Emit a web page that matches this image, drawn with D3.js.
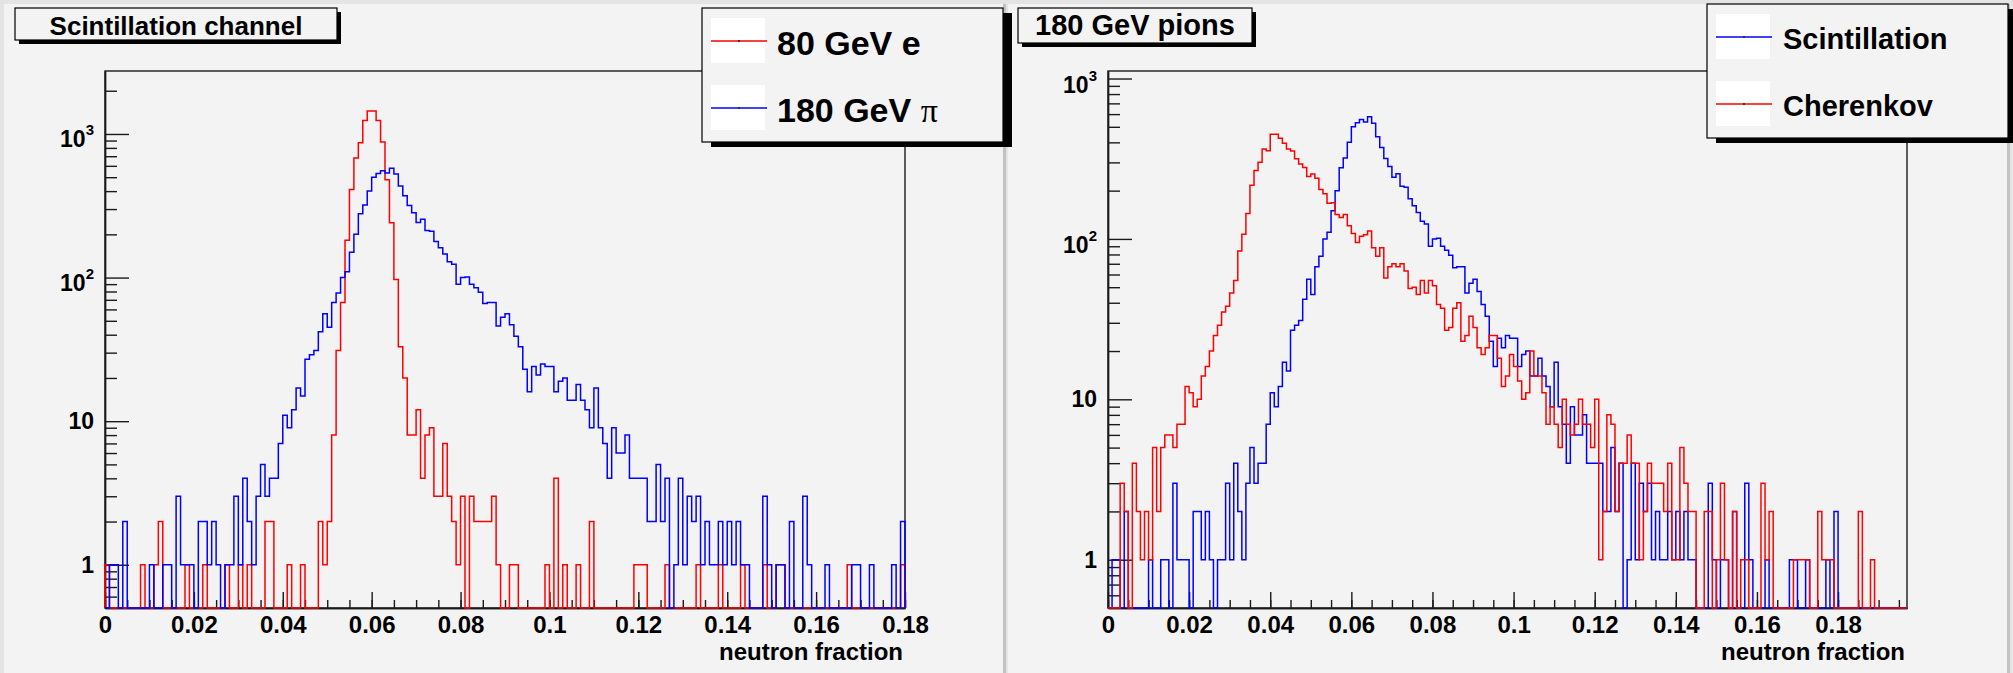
<!DOCTYPE html>
<html lang="en">
<head>
<meta charset="UTF-8">
<title>neutron fraction</title>
<script src="https://cdn.jsdelivr.net/npm/d3@7"></script>
<style>
  body { margin: 0; background: #e4e4e4; }
  text { font-family: "Liberation Sans", Arial, sans-serif; font-weight: bold; fill: #000; }
</style>
</head>
<body>
<svg id="chart" width="2013" height="673"></svg>
<script>
// histograms, one entry per bin of width 0.001 (neutron fraction)
const binWidth = 0.001;

const xTickLabels = [0, 0.02, 0.04, 0.06, 0.08, 0.1, 0.12, 0.14, 0.16, 0.18];
const yDecades = [1, 10, 100, 1000];

// 180 GeV pi, scintillation channel (bins 0..196)
const pi180Scint = [
  0,1,1,0,2,0,0,0,0,0,
  1,0,0,1,1,0,3,1,1,1,
  0,2,2,1,2,1,0,1,1,3,
  1,4,2,1,3,5,3,4,4,7,
  11,9,12,17,15,27,29,31,42,56,
  45,67,78,100,110,150,200,278,320,400,
  500,530,555,535,578,527,434,372,317,283,
  242,255,213,210,178,161,146,129,124,90,
  100,101,90,85,79,66,67,67,46,53,
  56,47,39,33,23,16,24,21,25,24,
  24,16,19,20,14,14,18,14,12,9,
  17,9,7,4,9,6,6,8,4,4,
  4,4,2,2,5,2,4,0,1,4,
  1,3,2,3,1,2,1,1,2,1,
  2,1,2,1,1,0,0,0,3,1,
  0,1,1,0,2,0,0,3,1,0,
  0,0,1,0,0,0,0,0,1,1,
  0,0,1,0,0,0,0,1,0,2,
  0,0,0,0,0,0,0,0,0,0,
  0,0,0,0,0,0,0
];

// 80 GeV e, scintillation channel (bins 0..179)
const e80Scint = [
  1,0,0,0,0,0,0,0,1,0,
  0,1,2,0,0,0,0,0,1,0,
  0,0,1,0,0,0,0,1,0,0,
  1,0,1,0,0,0,2,2,0,0,
  0,1,0,0,1,0,0,0,2,1,
  2,8,31,67,182,411,680,870,1242,1446,
  1446,1242,880,480,241,97,33,20,8,8,
  12,4,8,9,3,3,7,3,2,1,
  3,0,3,2,2,2,2,3,1,0,
  0,1,1,0,0,0,0,0,0,1,
  0,4,0,1,0,0,1,0,0,2,
  0,0,0,0,0,0,0,0,0,1,
  1,1,0,0,0,0,1,0,0,0,
  0,0,0,1,0,0,0,0,1,0,
  0,0,0,1,0,0,0,0,1,0,
  0,1,1,0,0,0,0,0,0,0,
  0,0,0,0,0,0,0,1,0,0,
  0,0,0,0,0,0,0,0,0,1
];

// 180 GeV pi, Cherenkov channel (bins 0..196)
const pi180Cher = [
  0,0,0,3,2,0,4,2,1,2,
  1,5,2,5,6,6,5,7,7,12,
  11,9,10,14,16,20,25,29,35,38,
  46,55,84,107,144,216,267,301,364,354,
  449,449,424,395,364,353,316,293,279,245,
  254,239,203,191,167,168,142,136,142,121,
  108,95,104,106,112,88,78,88,57,67,
  70,67,70,63,49,50,45,55,46,55,
  51,39,37,27,28,37,40,23,25,33,
  28,21,19,21,25,25,18,12,14,19,
  16,13,10,11,20,14,14,11,7,9,
  7,5,10,7,6,7,10,7,7,5,
  10,1,2,8,7,2,4,4,6,4,
  4,1,2,4,3,3,3,2,4,1,
  1,5,3,2,2,0,0,2,2,0,
  1,3,1,0,2,0,1,1,0,0,
  0,3,1,2,0,0,0,0,0,1,
  1,1,1,0,0,2,1,1,1,0,
  0,0,0,0,0,2,0,0,1,0,
  0,0,0,0,0,0,0
];

const svg = d3.select("#chart");

// pads
svg.append("rect").attr("x", 4).attr("y", 4).attr("width", 1000).attr("height", 669).attr("fill", "#f3f3f3");
svg.append("rect").attr("x", 1008).attr("y", 4).attr("width", 1000).attr("height", 669).attr("fill", "#f3f3f3");
svg.append("rect").attr("x", 1003).attr("y", 4).attr("width", 3).attr("height", 669).attr("fill", "#c2c2c2");
svg.append("rect").attr("x", 2007).attr("y", 4).attr("width", 3).attr("height", 669).attr("fill", "#c2c2c2");

function histPath(values, x, y) {
  const ymin = y.domain()[0];
  const pts = [[0, ymin]];
  values.forEach(function(v, i) {
    pts.push([i * binWidth, v]);
    pts.push([(i + 1) * binWidth, v]);
  });
  pts.push([values.length * binWidth, ymin]);
  return d3.line()
    .x(function(d) { return x(d[0]); })
    .y(function(d) { return y(Math.max(d[1], ymin)); })(pts);
}

function drawPanel(p) {
  const g = svg.append("g");
  const x = d3.scaleLinear().domain(p.xDomain).range([p.left, p.right]);
  const y = d3.scaleLog().domain(p.yDomain).range([p.bottom, p.top]);

  // frame
  g.append("rect")
    .attr("x", p.left).attr("y", p.top)
    .attr("width", p.right - p.left).attr("height", p.bottom - p.top)
    .attr("fill", "none").attr("stroke", "#1a1a1a").attr("stroke-width", 1.4);

  // x axis: majors every 0.02, minors every 0.005
  const xMinor = d3.range(0, p.xDomain[1] + 1e-9, 0.005);
  g.append("g").attr("transform", "translate(0," + p.bottom + ")")
    .call(d3.axisBottom(x).tickValues(xMinor).tickSize(-8).tickSizeOuter(0).tickFormat(""));
  g.append("g").attr("transform", "translate(0," + p.bottom + ")")
    .call(d3.axisBottom(x).tickValues(xTickLabels).tickSize(-16).tickSizeOuter(0)
      .tickPadding(8).tickFormat(function(d) { return d === 0 ? "0" : d3.format("~g")(d); }));

  // y axis (log): decades and minors
  const yMinor = [];
  [0.1, 1, 10, 100, 1000].forEach(function(dec) {
    for (let m = 2; m <= 9; m++) {
      const v = m * dec;
      if (v > p.yDomain[0] && v < p.yDomain[1] && v !== 10 && v !== 100 && v !== 1000) yMinor.push(v);
    }
  });
  g.append("g").attr("transform", "translate(" + p.left + ",0)")
    .call(d3.axisLeft(y).tickValues(yMinor).tickSize(-12).tickSizeOuter(0).tickFormat(""));
  const decades = yDecades.filter(function(v) { return v < p.yDomain[1]; });
  g.append("g").attr("transform", "translate(" + p.left + ",0)")
    .call(d3.axisLeft(y).tickValues(decades).tickSize(-24).tickSizeOuter(0).tickFormat(""));

  g.selectAll(".domain").attr("stroke", "#1a1a1a").attr("stroke-width", 1.4);
  g.selectAll(".tick line").attr("stroke", "#1a1a1a").attr("stroke-width", 1.4);
  g.selectAll(".tick text").attr("font-size", 24).attr("fill", "#000")
    .attr("font-family", "'Liberation Sans', Arial, sans-serif").attr("font-weight", "bold");

  // decade labels
  decades.forEach(function(v) {
    const e = Math.round(Math.log10(v));
    const t = g.append("text").attr("text-anchor", "end").attr("font-size", 23)
      .attr("x", p.left - 11);
    if (e <= 1) {
      t.attr("y", y(v) + 8).text(v);
    } else {
      t.attr("y", y(v) + p.supShift);
      t.append("tspan").text("10");
      t.append("tspan").attr("font-size", 15).attr("dy", -12).text(e);
    }
  });

  // x title
  g.append("text").attr("x", p.right - 2).attr("y", 660).attr("text-anchor", "end")
    .attr("font-size", 24).text("neutron fraction");

  // histograms
  const clipId = "clip" + p.left;
  svg.append("clipPath").attr("id", clipId).append("rect")
    .attr("x", p.left - 1).attr("y", p.top).attr("width", p.right - p.left + 2).attr("height", p.bottom - p.top + 1);
  p.series.forEach(function(s) {
    g.append("path")
      .attr("d", histPath(s.values.slice(0, Math.round(p.xDomain[1] / binWidth)), x, y))
      .attr("fill", "none").attr("stroke", s.color).attr("stroke-width", 1.5)
      .attr("clip-path", "url(#" + clipId + ")");
  });

  // title box
  const tb = p.title;
  g.append("rect").attr("x", tb.x + 4).attr("y", tb.y + 4).attr("width", tb.w).attr("height", tb.h).attr("fill", "#000");
  g.append("rect").attr("x", tb.x).attr("y", tb.y).attr("width", tb.w).attr("height", tb.h)
    .attr("fill", "#f3f3f3").attr("stroke", "#000").attr("stroke-width", 1.2);
  g.append("text").attr("x", tb.x + tb.w / 2).attr("y", tb.y + 27).attr("text-anchor", "middle")
    .attr("font-size", tb.size).text(tb.text);

  // legend
  const lg = p.legend;
  g.append("rect").attr("x", lg.x + 9).attr("y", lg.y + 5).attr("width", lg.w).attr("height", lg.h).attr("fill", "#000");
  g.append("rect").attr("x", lg.x).attr("y", lg.y).attr("width", lg.w).attr("height", lg.h)
    .attr("fill", "#f3f3f3").attr("stroke", "#000").attr("stroke-width", 1.2);
  lg.entries.forEach(function(en, i) {
    const cy = lg.y + lg.rowY[i];
    g.append("rect").attr("x", lg.x + 9).attr("y", cy - 23).attr("width", 54).attr("height", 45).attr("fill", "#fff");
    g.append("line").attr("x1", lg.x + 9).attr("x2", lg.x + 65).attr("y1", cy).attr("y2", cy)
      .attr("stroke", en.color).attr("stroke-width", 1.5);
    g.append("rect").attr("x", lg.x + 36).attr("y", cy - 1).attr("width", 2).attr("height", 2).attr("fill", "#333");
    const t = g.append("text").attr("x", lg.x + lg.textDx).attr("y", cy + lg.size * 0.42)
      .attr("font-size", lg.size);
    if (en.label.endsWith("\u03c0")) {
      t.append("tspan").text(en.label.slice(0, -1));
      t.append("tspan").attr("font-family", "'Liberation Serif', 'DejaVu Serif', serif")
        .attr("font-weight", "normal").text("\u03c0");
    } else {
      t.text(en.label);
    }
  });
}

drawPanel({
  left: 105, right: 905, top: 71, bottom: 608,
  xDomain: [0, 0.18], yDomain: [0.5, 2745], supShift: 13,
  series: [
    { values: e80Scint, color: "#ff0000" },
    { values: pi180Scint, color: "#0000ff" }
  ],
  title: { x: 15, y: 8, w: 322, h: 32, size: 26, text: "Scintillation channel" },
  legend: {
    x: 702, y: 8, w: 301, h: 134, size: 34, textDx: 75, rowY: [33, 100],
    entries: [
      { label: "80 GeV e", color: "#ff0000" },
      { label: "180 GeV \u03c0", color: "#0000ff" }
    ]
  }
});

drawPanel({
  left: 1108, right: 1907, top: 71, bottom: 608,
  xDomain: [0, 0.197], yDomain: [0.5, 1114], supShift: 14,
  series: [
    { values: pi180Scint, color: "#0000ff" },
    { values: pi180Cher, color: "#ff0000" }
  ],
  title: { x: 1018, y: 8, w: 234, h: 35, size: 29, text: "180 GeV pions" },
  legend: {
    x: 1707, y: 4, w: 301, h: 134, size: 29, textDx: 76, rowY: [33, 100],
    entries: [
      { label: "Scintillation", color: "#0000ff" },
      { label: "Cherenkov", color: "#ff0000" }
    ]
  }
});
</script>
</body>
</html>
